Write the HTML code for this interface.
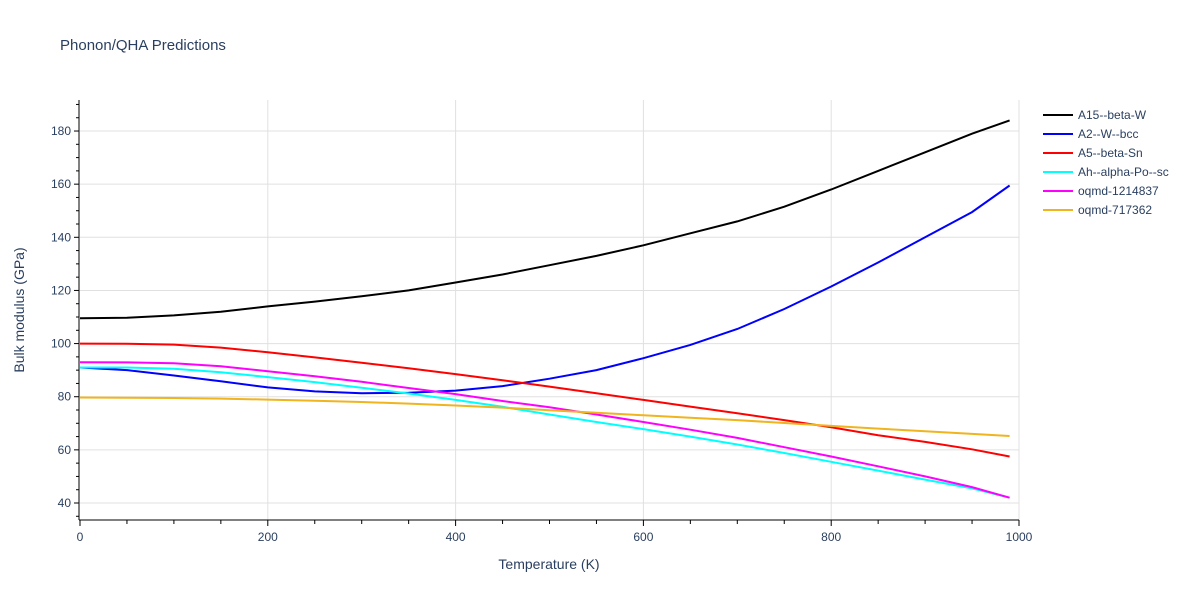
<!DOCTYPE html>
<html><head><meta charset="utf-8"><style>
body{margin:0;background:#fff;font-family:"Liberation Sans",sans-serif}
text{font-family:"Liberation Sans",sans-serif;fill:#2a3f5f}
</style></head><body>
<svg width="1200" height="600" id="svg">
<text x="60" y="50" font-size="15">Phonon/QHA Predictions</text>
<g id="grid"></g><g id="axes"></g><g id="lines"></g><g id="legend"></g>
<text x="549" y="569" font-size="14" text-anchor="middle">Temperature (K)</text>
<text transform="translate(24,310) rotate(-90)" font-size="14" text-anchor="middle">Bulk modulus (GPa)</text>
</svg>
<script>
const temps=[0,50,100,150,200,250,300,350,400,450,500,550,600,650,700,750,800,850,900,950,990];
const seriesNames=["A15--beta-W","A2--W--bcc","A5--beta-Sn","Ah--alpha-Po--sc","oqmd-1214837","oqmd-717362"];
const colors=["#000000","#0000ff","#ff0000","#00ffff","#ff00ff","#f0b41e"];
const a15=[109.5,109.7,110.6,112,114,115.8,117.8,120,123,126,129.5,133,137,141.5,146,151.5,158,165,172,179,184];
const a2=[91,90,88,85.8,83.5,82,81.3,81.5,82.3,84,86.8,90,94.5,99.5,105.5,113,121.5,130.5,140,149.5,159.5];
const a5=[100,99.9,99.6,98.5,96.7,94.8,92.8,90.7,88.5,86.2,83.8,81.3,78.8,76.3,73.8,71.2,68.5,65.5,63,60.2,57.5];
const ah=[91,91,90.5,89.2,87.4,85.5,83.4,81.2,78.8,76.2,73.3,70.5,67.8,65,62,58.8,55.5,52.2,48.8,45.5,42];
const oq1=[93,92.9,92.6,91.5,89.6,87.7,85.6,83.3,81,78.4,76,73.3,70.5,67.6,64.5,61,57.5,53.8,50,46,42];
const oq2=[79.7,79.6,79.5,79.3,78.9,78.5,78,77.4,76.7,75.9,74.9,74,73,72.1,71.2,70.1,69,68,67,66,65.2];
const xTicks=[0,200,400,600,800,1000];
const yTicks=[40,60,80,100,120,140,160,180];
const allSeries=[a15,a2,a5,ah,oq1,oq2];
const NS="http://www.w3.org/2000/svg";
const X=v=>80+v*0.939;
const Y=v=>503-(v-40)*53.14/20;
function mk(tag,attrs,parent){const e=document.createElementNS(NS,tag);for(const k in attrs)e.setAttribute(k,attrs[k]);document.getElementById(parent).appendChild(e);return e;}
xTicks.forEach(t=>{
 if(t>0){const g=mk('line',{x1:X(t),x2:X(t),y1:100,y2:520,stroke:'#e0e0e0'},'grid');
 
 }
 const l=mk('text',{x:X(t),y:541,'font-size':12,'text-anchor':'middle'},'axes');l.textContent=t;
 
 
});
for(let t=0;t<=1000;t+=50){mk('line',{x1:X(t),x2:X(t),y1:520,y2:t%200==0?526:524,stroke:'#000'},'axes');}
yTicks.forEach(t=>{
 const g=mk('line',{x1:80,x2:1019,y1:Y(t),y2:Y(t),stroke:'#e0e0e0'},'grid');
 
 
 const l=mk('text',{x:71,y:Y(t)+4,'font-size':12,'text-anchor':'end'},'axes');l.textContent=t;
 
 
});
for(let v=35;v<=190;v+=5){mk('line',{x1:v%20==0?74:76,x2:79,y1:Y(v),y2:Y(v),stroke:'#000'},'axes');}
const ax=mk('line',{x1:79,x2:79,y1:100,y2:520,stroke:'#000'},'axes');


const bx=mk('line',{x1:79,x2:1019,y1:520,y2:520,stroke:'#000'},'axes');


allSeries.forEach((s,i)=>{
 const p=mk('path',{d:s.map((v,j)=>(j?'L':'M')+X(temps[j]).toFixed(1)+','+Y(v).toFixed(1)).join(''),fill:'none',stroke:colors[i],'stroke-width':2},'lines');
 
 
 const ly=115+i*19;
 const ll=mk('line',{x1:1043,x2:1073,y1:ly,y2:ly,stroke:colors[i],'stroke-width':2},'legend');
 
 
 const lt=mk('text',{x:1078,y:ly+4,'font-size':12},'legend');lt.textContent=seriesNames[i];
 
 
});
</script>
</body></html>
